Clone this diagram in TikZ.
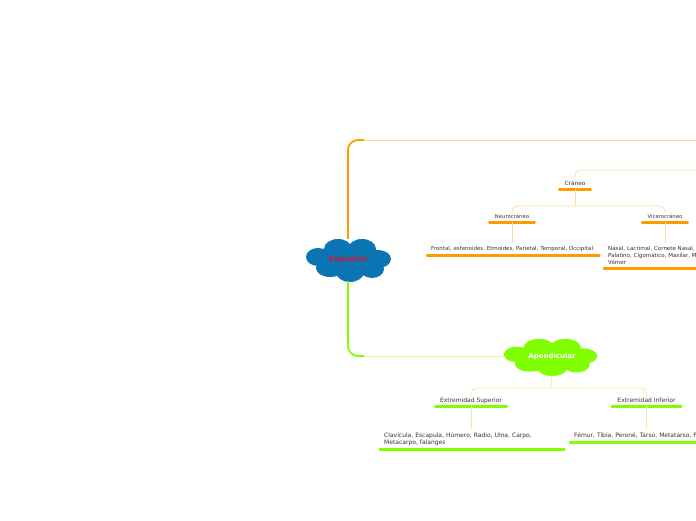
\documentclass[tikz,border=0pt]{standalone}
\usepackage{fontspec}
\setmainfont{DejaVu Sans}
\usepackage{xcolor}
\usetikzlibrary{shapes,arrows,positioning,fit,backgrounds,calc}

\definecolor{obar}{HTML}{FF9A00}
\definecolor{olight}{HTML}{FFD9A3}
\definecolor{gbar}{HTML}{80FF00}
\definecolor{glight}{HTML}{CCFF99}
\definecolor{cblue}{HTML}{0B74B2}
\definecolor{cred}{HTML}{E0103A}
\definecolor{tgray}{HTML}{333333}

% cloud of puffs: #1 centre, #2 xscale, #3 yscale, #4 colour
\newcommand{\puffcloud}[4]{%
  \begin{scope}[shift={#1}, xscale=#2, yscale=#3]
    \fill[#4] (0,0) ellipse [x radius=28, y radius=12];
    \foreach \px/\py/\rx/\ry in {-30/3/12/9, -10/11/14/10, 14/11/14/10, 30/1/13/9, 24/-9/12/9, 2/-12/14/10, -18/-8/14/9}
      \fill[#4] (\px,\py) ellipse [x radius=\rx, y radius=\ry];
  \end{scope}}

\begin{document}
\begin{tikzpicture}[
    x=1pt, y=1pt,
    topic/.style={font=\fontsize{#1}{6}\selectfont, text=tgray, text height=3.8, text depth=1, inner xsep=0, inner ysep=2.2, align=center},
    leaf/.style={font=\fontsize{#1}{7}\selectfont, text=tgray, inner xsep=4, inner ysep=3.4, align=left, anchor=north west},
    main/.style={inner sep=0, font=\fontsize{7}{8}\selectfont\bfseries},
    obarline/.style={obar, line width=2.6, line cap=round},
    gbarline/.style={gbar, line width=2.6, line cap=round},
    olink/.style={olight, line width=0.8, rounded corners=6},
    glink/.style={glight, line width=0.8, rounded corners=6}
]
    \path[use as bounding box] (0,0) rectangle (696,520);
    \clip (0,0) rectangle (696,520);

    % Central and second main topics
    \puffcloud{(348,260)}{1}{1}{cblue}
    \puffcloud{(550,163)}{1.1}{0.86}{gbar}
    \node[main, text=cred, minimum width=84, minimum height=42] (esq) at (348,260) {Esqueleto};
    \node[main, text=white, minimum width=94, minimum height=36] (apen) at (552,163) {Apendicular};
    \coordinate (axial) at (696,380);

    % Main branches
    \draw[obar, line width=1.8, rounded corners=10] (esq.north) |- (364,380);
    \draw[olink] (364,380) -- (axial);
    \draw[gbar, line width=1.8, rounded corners=10] (esq.south) |- (364,164);
    \draw[glink] (364,164) -- (apen.west |- 0,164);

    % Craneo
    \node[topic=5.8, minimum width=31] (craneo) at (575,335.5) {Cráneo};
    \draw[obarline] (craneo.south west) -- (craneo.south east);
    \draw[olink] (craneo.north) -- (575,350) -- (696,350);

    \node[topic=5.3, minimum width=45] (neuro) at (512,302.5) {Neurocráneo};
    \node[topic=5.3, minimum width=45] (vicero) at (665,302.5) {Vicerocráneo};
    \draw[obarline] (neuro.south west) -- (neuro.south east);
    \draw[obarline] (vicero.south west) -- (vicero.south east);
    \draw[olink] (craneo.south) -- (575,314);
    \draw[olink] (neuro.north) -- (512,314) -- (665,314) -- (vicero.north);

    \node[leaf=5.5, text width=164] (neuroleaf) at (427,277) {Frontal, esfenoides, Etmoides, Parietal, Temporal, Occipital};
    \draw[obarline] (neuroleaf.south west) -- (neuroleaf.south east);
    \draw[olink] (neuro.south) -- (512,277);

    \node[leaf=5.5, text width=140] (viceroleaf) at (604,277) {Nasal, Lacrimal, Cornete Nasal,\\Palatino, Cigomático, Maxilar, Mandíbula,\\Vómer};
    \draw[obarline] (viceroleaf.south west) -- (viceroleaf.south east);
    \draw[olink] (vicero.south) -- (665,277);

    % Extremidades
    \node[topic=6, minimum width=71] (esup) at (471,118.5) {Extremidad Superior};
    \node[topic=6, minimum width=69] (einf) at (646.5,118.5) {Extremidad Inferior};
    \draw[gbarline] (esup.south west) -- (esup.south east);
    \draw[gbarline] (einf.south west) -- (einf.south east);
    \draw[glink] (apen.south) -- (551,132);
    \draw[glink] (esup.north) -- (471,132) -- (646.5,132) -- (einf.north);

    \node[leaf=6, text width=176] (esupleaf) at (380,91) {Clavícula, Escapula, Húmero, Radio, Ulna, Carpo,\\Metacarpo, falanges};
    \draw[gbarline] (esupleaf.south west) -- (esupleaf.south east);
    \draw[glink] (esup.south) -- (471,91);

    \node[leaf=6, text width=170] (einfleaf) at (570,91) {Fémur, Tibia, Peroné, Tarso, Metatarso, Falanges};
    \draw[gbarline] (einfleaf.south west) -- (einfleaf.south east);
    \draw[glink] (einf.south) -- (646.5,91);
\end{tikzpicture}
\end{document}
